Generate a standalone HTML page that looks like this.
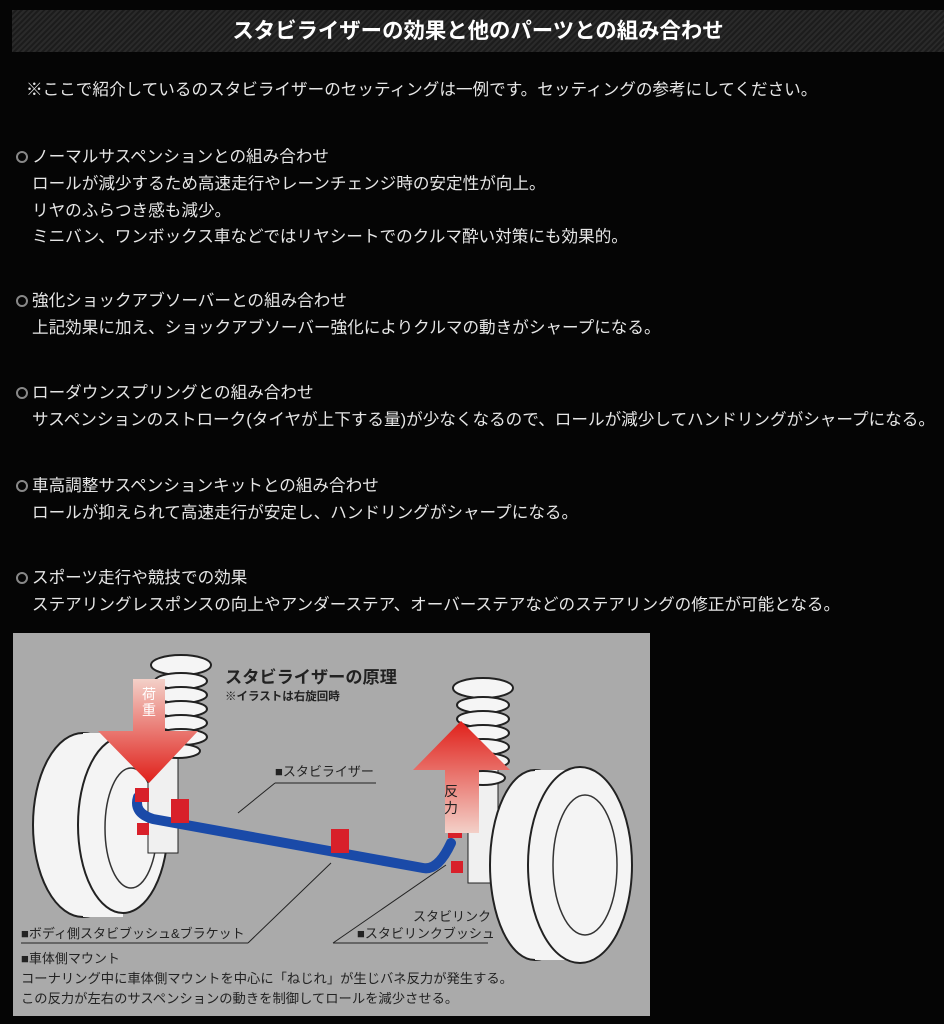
<!DOCTYPE html>
<html><head><meta charset="utf-8"><style>
body{margin:0;width:944px;height:1024px;background:#050505;overflow:hidden;font-family:"Liberation Sans","Noto Sans CJK JP",sans-serif;position:relative}
.hd{position:absolute;left:12px;top:10px;width:932px;height:42px;background:repeating-linear-gradient(135deg,#2a2a2a 0 2px,#1c1c1c 2px 4px);color:#fff;font-weight:bold;font-size:21.4px;text-align:center;line-height:42px;letter-spacing:0px}
.t{position:absolute;color:#e6e6e6;font-size:16.6px;white-space:nowrap;line-height:18px}
.m{position:absolute;width:8px;height:8px;border:2px solid #888;border-radius:50%}
svg text{font-family:"Liberation Sans","Noto Sans CJK JP",sans-serif}
</style></head><body>
<div class="hd">スタビライザーの効果と他のパーツとの組み合わせ</div>
<div class="t" style="left:26px;top:81px">※ここで紹介しているのスタビライザーのセッティングは一例です。セッティングの参考にしてください。</div>

<div class="m" style="left:16px;top:151px"></div>
<div class="t" style="left:32px;top:148px">ノーマルサスペンションとの組み合わせ</div>
<div class="t" style="left:32px;top:175px">ロールが減少するため高速走行やレーンチェンジ時の安定性が向上。</div>
<div class="t" style="left:32px;top:202px">リヤのふらつき感も減少。</div>
<div class="t" style="left:32px;top:228px">ミニバン、ワンボックス車などではリヤシートでのクルマ酔い対策にも効果的。</div>

<div class="m" style="left:16px;top:295px"></div>
<div class="t" style="left:32px;top:292px">強化ショックアブソーバーとの組み合わせ</div>
<div class="t" style="left:32px;top:319px">上記効果に加え、ショックアブソーバー強化によりクルマの動きがシャープになる。</div>

<div class="m" style="left:16px;top:387px"></div>
<div class="t" style="left:32px;top:384px">ローダウンスプリングとの組み合わせ</div>
<div class="t" style="left:32px;top:411px">サスペンションのストローク(タイヤが上下する量)が少なくなるので、ロールが減少してハンドリングがシャープになる。</div>

<div class="m" style="left:16px;top:480px"></div>
<div class="t" style="left:32px;top:477px">車高調整サスペンションキットとの組み合わせ</div>
<div class="t" style="left:32px;top:504px">ロールが抑えられて高速走行が安定し、ハンドリングがシャープになる。</div>

<div class="m" style="left:16px;top:572px"></div>
<div class="t" style="left:32px;top:569px">スポーツ走行や競技での効果</div>
<div class="t" style="left:32px;top:596px">ステアリングレスポンスの向上やアンダーステア、オーバーステアなどのステアリングの修正が可能となる。</div>

<svg style="position:absolute;left:13px;top:633px" width="637" height="383" viewBox="0 0 637 383">
<defs>
<linearGradient id="rd" x1="0" y1="0" x2="0" y2="1"><stop offset="0" stop-color="#f3d0c8"/><stop offset="1" stop-color="#e0201a"/></linearGradient>
<linearGradient id="ru" x1="0" y1="1" x2="0" y2="0"><stop offset="0" stop-color="#f3d0c8"/><stop offset="1" stop-color="#e0201a"/></linearGradient>
</defs>
<rect width="637" height="383" fill="#aaaaaa"/>
<ellipse cx="70" cy="192" rx="50" ry="92" fill="#f4f4f4" stroke="#222" stroke-width="2"/>
<rect x="70" y="100" width="40" height="184" fill="#f4f4f4"/>
<ellipse cx="110" cy="192" rx="45" ry="88" fill="#f4f4f4" stroke="#222" stroke-width="2"/>
<ellipse cx="118" cy="195" rx="26" ry="60" fill="none" stroke="#333" stroke-width="1.5"/>
<rect x="135" y="120" width="30" height="100" fill="#f0f0f0" stroke="#222"/>
<g fill="#f5f5f5" stroke="#222" stroke-width="2">
<ellipse cx="168" cy="32" rx="30" ry="10"/>
<ellipse cx="168" cy="48" rx="26" ry="8"/><ellipse cx="168" cy="62" rx="26" ry="8"/><ellipse cx="168" cy="76" rx="26" ry="8"/><ellipse cx="168" cy="90" rx="26" ry="8"/><ellipse cx="168" cy="104" rx="26" ry="8"/><ellipse cx="165" cy="118" rx="22" ry="7"/>
</g>
<rect x="455" y="100" width="30" height="150" fill="#f0f0f0" stroke="#222"/>
<g fill="#f5f5f5" stroke="#222" stroke-width="2">
<ellipse cx="470" cy="55" rx="30" ry="10"/>
<ellipse cx="470" cy="72" rx="26" ry="8"/><ellipse cx="470" cy="86" rx="26" ry="8"/><ellipse cx="470" cy="100" rx="26" ry="8"/><ellipse cx="470" cy="114" rx="26" ry="8"/><ellipse cx="470" cy="128" rx="26" ry="8"/><ellipse cx="470" cy="145" rx="22" ry="7"/>
</g>
<ellipse cx="522" cy="232" rx="45" ry="95" fill="#f4f4f4" stroke="#222" stroke-width="2"/>
<rect x="522" y="137" width="45" height="190" fill="#f4f4f4"/>
<ellipse cx="567" cy="232" rx="52" ry="98" fill="#f4f4f4" stroke="#222" stroke-width="2"/>
<ellipse cx="572" cy="232" rx="32" ry="70" fill="none" stroke="#333" stroke-width="1.5"/>
<path d="M125 164 Q120 180 140 186 L410 235 Q425 238 438 210" fill="none" stroke="#1a4aa8" stroke-width="10" stroke-linecap="round"/>
<g fill="#d8202a"><rect x="122" y="155" width="14" height="14"/><rect x="124" y="190" width="12" height="12"/><rect x="158" y="166" width="18" height="24"/><rect x="318" y="196" width="18" height="24"/><rect x="435" y="193" width="14" height="12"/><rect x="438" y="228" width="12" height="12"/></g>
<path d="M120 46 L152 46 L152 98 L185 98 L136 150 L85 98 L120 98Z" fill="url(#rd)"/>
<path d="M432 200 L432 137 L400 137 L448 88 L497 137 L466 137 L466 200Z" fill="url(#ru)"/>
<text x="129" y="66" font-size="14" fill="#fff">荷</text><text x="129" y="82" font-size="14" fill="#fff">重</text>
<text x="431" y="163" font-size="14" fill="#222">反</text><text x="431" y="180" font-size="14" fill="#222">力</text>
<text x="212" y="50" font-size="17.2" font-weight="bold" fill="#222">スタビライザーの原理</text>
<text x="212" y="67" font-size="11.5" font-weight="bold" fill="#222">※イラストは右旋回時</text>
<text x="262" y="143" font-size="13" fill="#222">■スタビライザー</text>
<line x1="262" y1="150" x2="363" y2="150" stroke="#222"/>
<line x1="262" y1="150" x2="225" y2="180" stroke="#222"/>
<text x="8" y="305" font-size="13" fill="#222">■ボディ側スタビブッシュ&amp;ブラケット</text>
<line x1="8" y1="310" x2="235" y2="310" stroke="#222"/>
<line x1="235" y1="310" x2="318" y2="230" stroke="#222"/>
<text x="400" y="288" font-size="13" fill="#222">スタビリンク</text>
<text x="344" y="305" font-size="13" fill="#222">■スタビリンクブッシュ</text>
<line x1="320" y1="310" x2="475" y2="310" stroke="#222"/>
<line x1="320" y1="310" x2="433" y2="232" stroke="#222"/>
<text x="8" y="330" font-size="13" fill="#222">■車体側マウント</text>
<text x="8" y="350" font-size="13.3" fill="#222">コーナリング中に車体側マウントを中心に「ねじれ」が生じバネ反力が発生する。</text>
<text x="8" y="370" font-size="13.3" fill="#222">この反力が左右のサスペンションの動きを制御してロールを減少させる。</text>
</svg>
</body></html>
